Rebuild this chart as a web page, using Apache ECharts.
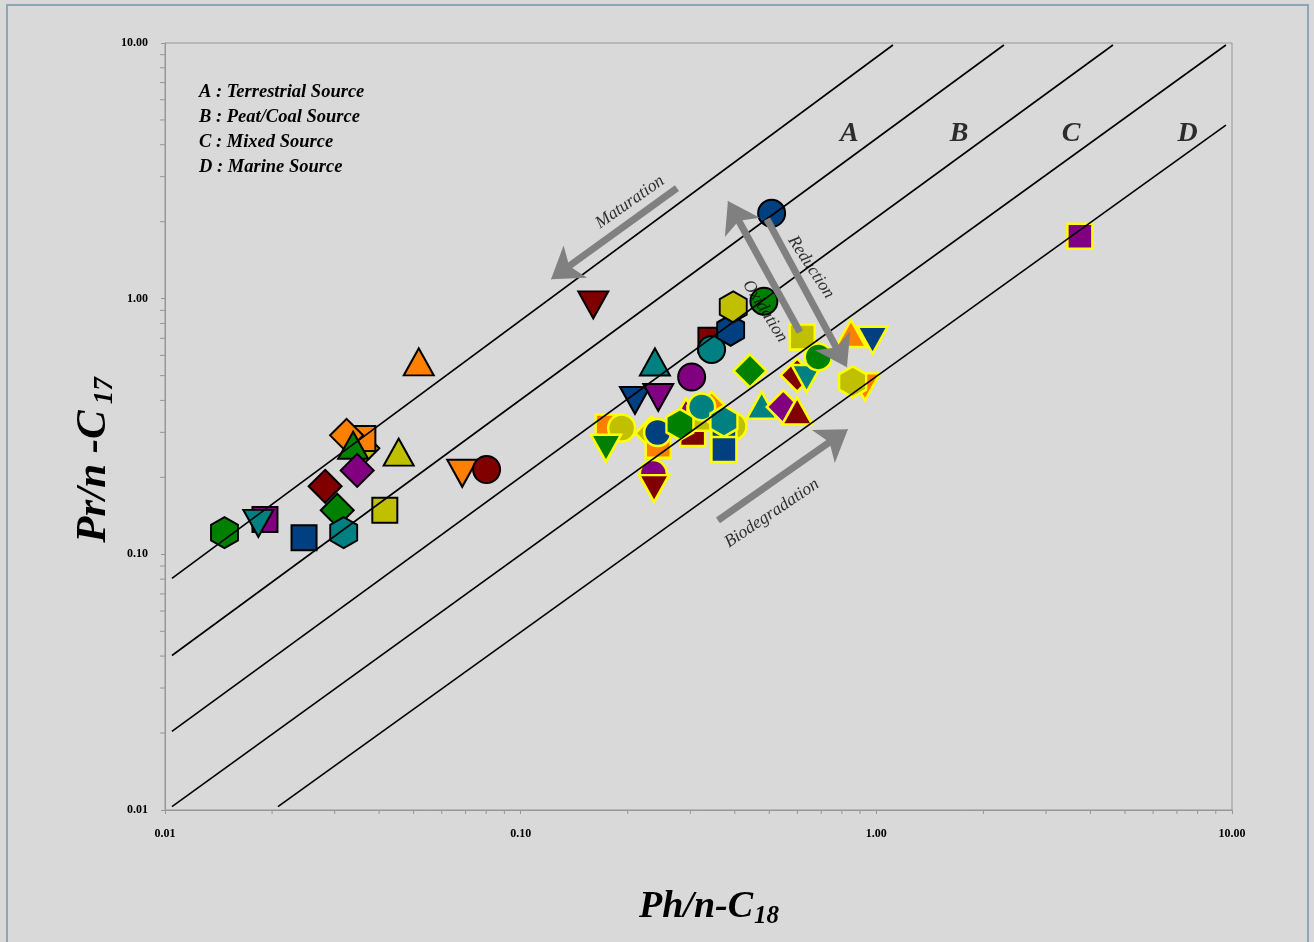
<!DOCTYPE html>
<html><head><meta charset="utf-8">
<script src="https://cdn.jsdelivr.net/npm/echarts@6/dist/echarts.min.js"></script>
<style>html,body{margin:0;padding:0;background:#d9d9d9}#c{width:1314px;height:942px}</style>
</head><body><div id="c"></div><script>
// ---------------- DATA ----------------
const axisMin = 0.01, axisMax = 10;
const minorTicks = [0.02,0.03,0.04,0.05,0.06,0.07,0.08,0.09,
                    0.2,0.3,0.4,0.5,0.6,0.7,0.8,0.9,
                    2,3,4,5,6,7,8,9];

// Group 1 (black outline markers): Ph/n-C18, Pr/n-C17, marker key
const g1Ph  = [0.036,0.036,0.0324,0.0338,0.0347,0.0517,0.0454,0.0282,0.0305,0.0318,0.0415,0.0246,0.0191,0.0183,0.0147,0.0685,0.0802,0.160,0.2385,0.2096,0.2437,0.3025,0.3427,0.3442,0.3894,0.396,0.483,0.5077];
const g1Pr  = [0.260,0.284,0.292,0.267,0.213,0.566,0.251,0.1845,0.1487,0.1216,0.1487,0.1162,0.137,0.1322,0.1216,0.2075,0.2146,0.946,0.5656,0.3997,0.4107,0.4943,0.688,0.6326,0.7527,0.9288,0.9777,2.156];
const g1Key = ['olive-diamond','orange-square','orange-diamond','green-triUp','purple-diamond','orange-triUp','olive-triUp','darkred-diamond','green-diamond','teal-hex','olive-square','navy-square','purple-square','teal-triDown','green-hex','orange-triDown','darkred-circle','darkred-triDown','teal-triUp','navy-triDown','purple-triDown','purple-circle','darkred-square','teal-circle','navy-hex','olive-hex','green-circle','navy-circle'];

// Group 2 (yellow outline markers)
const g2Ph  = [0.1763,0.1923,0.1737,0.2335,0.2437,0.2427,0.236,0.2372,0.3045,0.2915,0.3192,0.3442,0.2804,0.3228,0.3953,0.3728,0.3728,0.3728,0.4413,0.476,0.5474,0.599,0.619,0.599,0.6368,0.6866,0.8484,0.976,0.929,0.858,3.735];
const g2Pr  = [0.3149,0.312,0.260,0.2976,0.267,0.2995,0.207,0.1807,0.2968,0.3605,0.3405,0.3718,0.3218,0.3772,0.317,0.2895,0.3315,0.257,0.5218,0.383,0.3772,0.3639,0.7088,0.5019,0.4873,0.5919,0.7307,0.688,0.4517,0.4726,1.756];
const g2Key = ['orange-square','olive-circle','green-triDown','olive-diamond','orange-square','navy-circle','purple-circle','darkred-triDown','darkred-square','purple-triUp','olive-square','orange-diamond','green-hex','teal-circle','olive-circle','navy-square','teal-hex','navy-square','green-diamond','teal-triUp','purple-diamond','darkred-triUp','olive-square','darkred-diamond','teal-triDown','green-circle','orange-triUp','navy-triDown','orange-triDown','olive-hex','purple-square'];

// Source boundary lines (start / end points)
const lineStartPh = [0.01046,0.01046,0.01046,0.01046,0.02078];
const lineStartPr = [0.0805,0.0402,0.0203,0.0103,0.0103];
const lineEndPh   = [1.1135,2.284,4.627,9.614,9.614];
const lineEndPr   = [9.82,9.82,9.82,9.82,4.776];

// Zone labels
const zoneLabels = ['A','B','C','D'];
const zonePh = [0.840,1.710,3.530,7.500];
const zonePr = [4.40,4.40,4.40,4.40];

// Process arrows (tail -> tip)
const arrowNames  = ['Maturation','Oxidation','Reduction','Biodegradation'];
const arrowFromPh = [0.2751,0.6098,0.4926,0.3587];
const arrowFromPr = [2.707,0.7396,2.047,0.1358];
const arrowToPh   = [0.1217,0.3826,0.8266,0.832];
const arrowToPr   = [1.192,2.408,0.5394,0.3084];
const arrowLabelPh = [0.2029,0.4862,0.6549,0.5087];
const arrowLabelPr = [2.386,0.8936,1.328,0.1447];
const arrowLabelAngle = [35,-58,-57,34];

const legendLines = ['A : Terrestrial Source','B : Peat/Coal Source','C : Mixed Source','D : Marine Source'];

// ---------------- STYLES ----------------
const COLORS = {orange:'#ff8000', darkred:'#800000', green:'#008000', olive:'#c0c000', purple:'#800080', navy:'#004080', teal:'#008080'};
const SHAPES = {
  circle:{symbol:'circle', size:[27,27]},
  square:{symbol:'rect', size:[25,25]},
  diamond:{symbol:'diamond', size:[33,33]},
  triUp:{symbol:'triangle', size:[30,27]},
  triDown:{symbol:'path://M0,0L2,0L1,1.75Z', size:[30,27]},
  hex:{symbol:'path://M0,-1L0.866,-0.5L0.866,0.5L0,1L-0.866,0.5L-0.866,-0.5Z', size:[27,31]}
};
function markerItems(xs, ys, keys){
  return xs.map((x,i)=>{
    const [c,s] = keys[i].split('-');
    return {value:[x, ys[i]], symbol:SHAPES[s].symbol, symbolSize:SHAPES[s].size, itemStyle:{color:COLORS[c]}};
  });
}
const SERIF = 'Liberation Serif';
const axisColor = '#969696';
const arrowColor = '#808080';
const HEAD = [16, 30];

const series = [];
series.push({type:'scatter', name:'g1', z:2, data:markerItems(g1Ph,g1Pr,g1Key), itemStyle:{borderColor:'#000', borderWidth:2, opacity:1}, silent:true});
series.push({type:'scatter', name:'g2', z:2, data:markerItems(g2Ph,g2Pr,g2Key), itemStyle:{borderColor:'#ffff00', borderWidth:2.5, opacity:1}, silent:true});
lineStartPh.forEach((v,i)=>{
  series.push({type:'line', z:3, showSymbol:false, symbol:'none', silent:true,
    data:[[lineStartPh[i],lineStartPr[i]],[lineEndPh[i],lineEndPr[i]]],
    lineStyle:{color:'#000', width:1.6}});
});
// arrow heads (thin line + arrow symbol at tip)
series.push({type:'lines', id:'arrowHeads', coordinateSystem:'cartesian2d', z:4, silent:true,
  symbol:['none','arrow'], symbolSize:HEAD,
  lineStyle:{color:arrowColor, width:1, opacity:1, curveness:0},
  data: arrowNames.map((n,i)=>({coords:[[arrowFromPh[i],arrowFromPr[i]],[arrowToPh[i],arrowToPr[i]]]}))});
// arrow shafts (filled in after layout so they stop at the arrow head notch)
series.push({type:'lines', id:'arrowShafts', coordinateSystem:'cartesian2d', z:4, silent:true,
  symbol:'none', lineStyle:{color:arrowColor, width:7, opacity:1, curveness:0}, data:[]});
series.push({type:'scatter', z:5, silent:true, symbolSize:0,
  data: arrowNames.map((n,i)=>({value:[arrowLabelPh[i],arrowLabelPr[i]], name:n,
    label:{show:true, position:'inside', formatter:n, rotate:arrowLabelAngle[i], fontFamily:SERIF, fontStyle:'italic', fontSize:17.5, color:'#000'}}))});
series.push({type:'scatter', z:5, silent:true, symbolSize:0,
  data: zoneLabels.map((n,i)=>({value:[zonePh[i],zonePr[i]], name:n,
    label:{show:true, position:'inside', formatter:n, fontFamily:SERIF, fontStyle:'italic', fontWeight:'bold', fontSize:28, color:'#000'}}))});
// minor ticks on both axes (log-spaced), placed through axis scales
series.push({type:'custom', z:1, silent:true, clip:false,
  data: minorTicks.map(v=>[v, axisMin]),
  renderItem:(p, api)=>{ const pt = api.coord([api.value(0), axisMin]);
    return {type:'line', shape:{x1:pt[0], y1:pt[1], x2:pt[0], y2:pt[1]+4}, style:{stroke:axisColor, lineWidth:1}}; }});
series.push({type:'custom', z:1, silent:true, clip:false,
  data: minorTicks.map(v=>[axisMin, v]),
  renderItem:(p, api)=>{ const pt = api.coord([axisMin, api.value(1)]);
    return {type:'line', shape:{x1:pt[0]-5, y1:pt[1], x2:pt[0], y2:pt[1]}, style:{stroke:axisColor, lineWidth:1}}; }});

const labelFmt = v => Number(v).toFixed(2);
const axisCommon = {type:'log', logBase:10, min:axisMin, max:axisMax,
  axisLine:{show:true, lineStyle:{color:axisColor, width:1}},
  axisTick:{show:true, length:4, lineStyle:{color:axisColor}},
  splitLine:{show:false}, minorTick:{show:false}, minorSplitLine:{show:false}};

const titleRich = (big, small, padL) => ({
  a:{fontSize:big, lineHeight:big+8, fontWeight:'bold', fontStyle:'italic', fontFamily:SERIF, fill:'#000'},
  b:{fontSize:small, lineHeight:small, padding:[big+8-small-2,0,0,padL], fontWeight:'bold', fontStyle:'italic', fontFamily:SERIF, fill:'#000'}
});
const graphic = [
  {type:'rect', silent:true, z:100, shape:{x:7,y:5,width:1301,height:960}, style:{fill:'none', stroke:'#8ba7b1', lineWidth:2}},
  {type:'text', x:709, y:907, silent:true, style:{text:'{a|Ph/n-C}{b|18}', align:'center', verticalAlign:'middle', rich:titleRich(38,25,1)}},
  {type:'text', x:94, y:460, rotation:Math.PI/2, silent:true, style:{text:'{a|Pr/n -C}{b|17}', align:'center', verticalAlign:'middle', rich:titleRich(43,27,6)}}
];
legendLines.forEach((t,i)=>{
  graphic.push({type:'text', x:199, y:92+25*i, silent:true, style:{text:t, align:'left', verticalAlign:'middle',
    font:'italic bold 18.5px "Liberation Serif"', fill:'#000'}});
});

const chart = echarts.init(document.getElementById('c'), null, {renderer:'canvas'});
chart.setOption({
  animation:false,
  backgroundColor:'#d9d9d9',
  grid:{left:165, right:82, top:43, bottom:132, show:true, borderColor:axisColor, borderWidth:1, backgroundColor:'transparent'},
  xAxis: Object.assign({}, axisCommon, {axisLabel:{formatter:labelFmt, fontFamily:SERIF, fontWeight:'bold', fontSize:12, color:'#000', margin:18}}),
  yAxis: Object.assign({}, axisCommon, {axisLabel:{formatter:labelFmt, fontFamily:SERIF, fontWeight:'bold', fontSize:12, color:'#000', margin:17}}),
  series: series,
  graphic: graphic
});
// shafts stop at the notch of each arrow head (computed with the chart's own scales)
const shaftData = arrowNames.map((n,i)=>{
  const p0 = chart.convertToPixel({gridIndex:0}, [arrowFromPh[i], arrowFromPr[i]]);
  const p1 = chart.convertToPixel({gridIndex:0}, [arrowToPh[i], arrowToPr[i]]);
  const dx = p1[0]-p0[0], dy = p1[1]-p0[1], L = Math.hypot(dx,dy);
  const back = HEAD[1]*0.72;
  const pe = [p1[0]-dx/L*back, p1[1]-dy/L*back];
  return {coords:[[arrowFromPh[i],arrowFromPr[i]], chart.convertFromPixel({gridIndex:0}, pe)]};
});
chart.setOption({series:[{id:'arrowShafts', data:shaftData}]});
</script></body></html>
